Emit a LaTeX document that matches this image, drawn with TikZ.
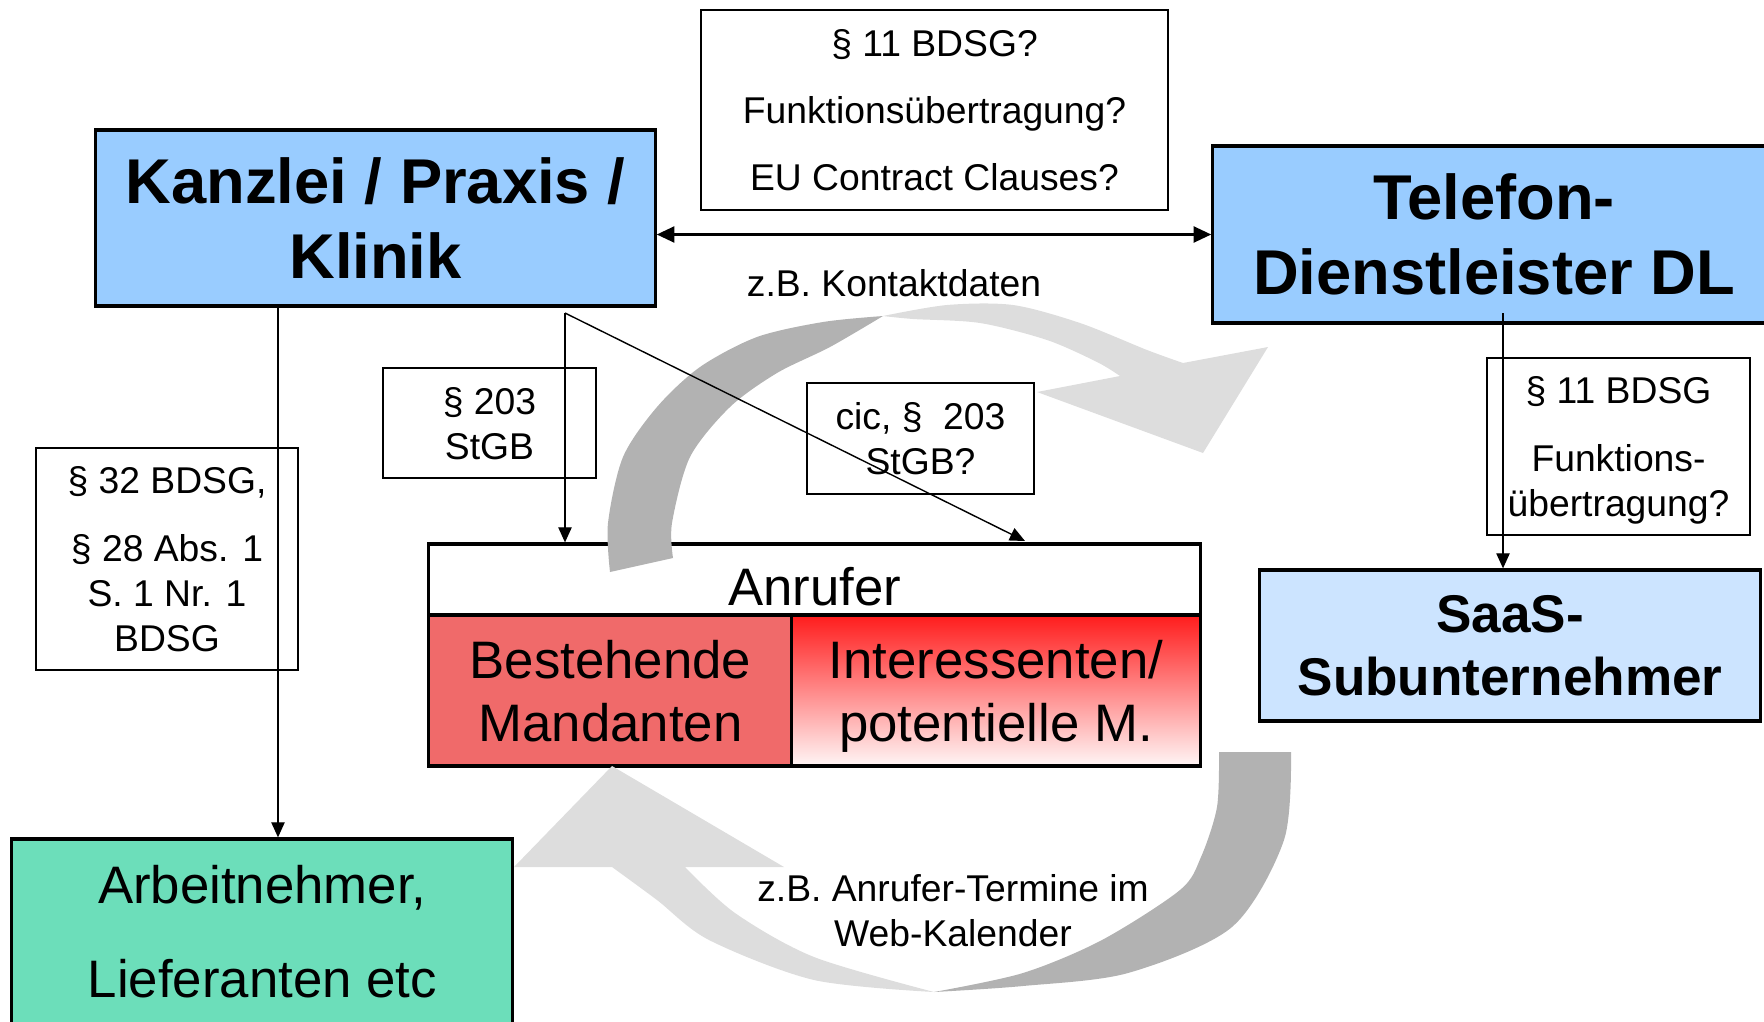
\documentclass[tikz,border=0pt]{standalone}
\usepackage{fontspec}
\setmainfont{Liberation Sans}
\usetikzlibrary{arrows.meta}
\usetikzlibrary{positioning}

\definecolor{kblue}{RGB}{153,204,255}
\definecolor{sblue}{RGB}{204,228,255}
\definecolor{mint}{RGB}{108,222,186}
\definecolor{mred}{RGB}{240,106,106}
\definecolor{arcdark}{RGB}{178,178,178}
\definecolor{arclight}{RGB}{221,221,221}

\begin{document}
\begin{tikzpicture}[x=0.01cm,y=-0.01cm,
  bigbox/.style={draw,line width=0.9pt,inner sep=0pt,align=center,font=\fontsize{18}{21.3}\selectfont\bfseries},
  callbox/.style={draw,line width=0.9pt,inner sep=0pt,align=center,text depth=0pt,font=\fontsize{15}{17.9}\selectfont},
  lawbox/.style={draw,line width=0.5pt,fill=white,inner sep=0pt,align=center,text depth=0pt,font=\fontsize{10.6}{12.8}\selectfont},
  lbl/.style={inner sep=0pt,align=center,font=\fontsize{10.6}{12.8}\selectfont}]
\def\len{4.3pt}
\def\wid{3.8pt}
\useasboundingbox (0,0) rectangle (1764,1021);
\clip (0,0) rectangle (1764,1021);

% the parties
\node [bigbox, fill=kblue, minimum width=5.59cm, minimum height=1.76cm, name=kanzlei] at (375.5,218) {Kanzlei / Praxis /\\Klinik};
\node [bigbox, fill=kblue, minimum width=5.62cm, minimum height=1.77cm, name=telefon] at (1494,234.5) {Telefon-\\Dienstleister DL};
\node [bigbox, fill=sblue, minimum width=5.0cm, minimum height=1.51cm, font=\fontsize{15.1}{17.9}\selectfont\bfseries, name=saas] at (1510,645.5) {SaaS-\\Subunternehmer};
\node [callbox, fill=mint, minimum width=5.005cm, minimum height=1.85cm, font=\fontsize{15}{26.9}\selectfont, name=arbeit] at (262.25,931.5) {Arbeitnehmer,\\Lieferanten etc};

% callers
\node [callbox, fill=white, text height=14.7pt, minimum width=7.71cm, minimum height=0.71cm, name=anrufer] at (814.5,579.5) {Anrufer};
\node [callbox, fill=mred, minimum width=3.63cm, minimum height=1.51cm, name=bestand] at (610.5,690.5) {Bestehende\\Mandanten};
\node [callbox, top color={rgb,255:red,255;green,28;blue,28}, middle color={rgb,255:red,255;green,160;blue,160}, bottom color={rgb,255:red,255;green,246;blue,246}, minimum width=4.08cm, minimum height=1.51cm, name=interessent] at (996,690.5) {Interessenten/\\potentielle M.};

% upper round arrow
\fill[arcdark] plot[smooth] coordinates {(610,572) (608,523) (623,457) (657,407) (700,367) (757,337) (823,322) (883,316)}
  -- plot[smooth] coordinates {(883,316) (830,347) (777,373) (730,407) (690,457) (672,523) (673,558)} -- cycle;
\fill[arclight] plot[smooth] coordinates {(883,316) (947,305) (1013,305) (1080,323) (1147,350) (1183,363)}
  -- (1268,347) -- (1203,453) -- (1037,392)
  -- plot[smooth] coordinates {(1120,376) (1097,362) (1047,340) (980,323) (913,319) (883,316)} -- cycle;
% lower round arrow
\fill[arcdark] (1219,752) -- plot[smooth] coordinates {(1291,752) (1284,840) (1232,927) (1128,973) (1023,986) (934,992)}
  -- plot[smooth] coordinates {(934,992) (1023,973) (1102,940) (1180,890) (1201,857) (1217,807) (1219,752)} -- cycle;
\fill[arclight] plot[smooth] coordinates {(934,992) (814,980) (709,940) (657,900) (612,867)}
  -- (514,867) -- (612,766) -- (784,867)
  -- plot[smooth] coordinates {(685,867) (735,913) (814,957) (934,992)} -- cycle;

% legal grounds
\node [lawbox, font=\fontsize{10.6}{19.1}\selectfont, minimum width=4.67cm, minimum height=2.0cm, name=top] at (934.5,110) {§ 11 BDSG?\\Funktionsübertragung?\\EU Contract Clauses?};
\node [lawbox, minimum width=2.13cm, minimum height=1.10cm, name=p203] at (489.5,423) {§ 203\\StGB};
\node [lawbox, minimum width=2.27cm, minimum height=1.11cm, name=cic] at (920.5,438.5) {cic, §\ \ 203\\StGB?};
\node [lawbox, minimum width=2.62cm, minimum height=2.22cm, name=p32] at (167,559) {§ 32 BDSG,\\[6.3pt]§ 28 Abs. 1\\S. 1 Nr. 1\\BDSG};
\node [lawbox, minimum width=2.63cm, minimum height=1.77cm, name=p11] at (1618.5,446.5) {§ 11 BDSG\\[6.3pt]Funktions-\\übertragung?};
\node [lbl, name=kontakt] at (894,283) {z.B. Kontaktdaten};
\node [lbl, name=termine] at (953,910.5) {z.B. Anrufer-Termine im\\Web-Kalender};

% data flows
\coordinate (kout) at (278,306);
\coordinate (kdata) at (565,313);
\coordinate (cin) at (1025,541);
\coordinate (tout) at (1503,313);
\draw [line width=0.75pt, {Triangle[length=5pt, width=4.5pt]}-{Triangle[length=5pt, width=4.5pt]}] (kanzlei.east |- telefon.west) -- (telefon.west);
\draw [line width=0.4pt, -{Triangle[length=\len, width=\wid]}] (kout) -- (kout |- arbeit.north);
\draw [line width=0.4pt, -{Triangle[length=\len, width=\wid]}] (kdata) -- (kdata |- anrufer.north);
\draw [line width=0.4pt, -{Triangle[length=\len, width=\wid]}] (kdata) -- (cin);
\draw [line width=0.4pt, -{Triangle[length=\len, width=\wid]}] (tout) -- (tout |- saas.north);
\end{tikzpicture}
\end{document}
